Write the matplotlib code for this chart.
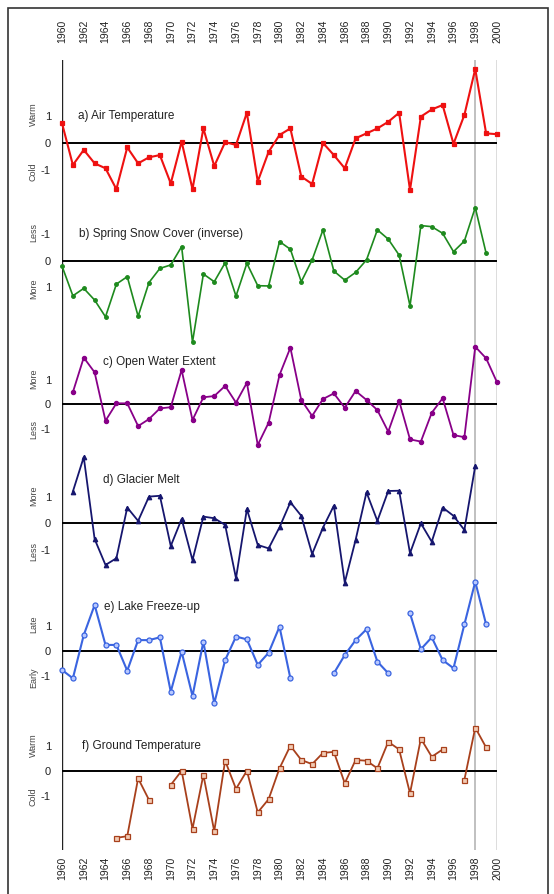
import matplotlib
matplotlib.use('Agg')
import matplotlib.pyplot as plt
import numpy as np
from matplotlib.patches import Rectangle

plt.rcParams['font.family'] = ['Liberation Sans', 'DejaVu Sans']

nan = np.nan
years = np.arange(1960, 2001)

air_temp = [0.72, -0.80, -0.25, -0.74, -0.92, -1.68, -0.16, -0.74, -0.52, -0.44,
            -1.47, 0.05, -1.68, 0.53, -0.84, 0.03, -0.07, 1.10, -1.40, -0.32,
            0.29, 0.53, -1.22, -1.49, 0.00, -0.44, -0.92, 0.17, 0.35, 0.53,
            0.77, 1.10, -1.71, 0.96, 1.22, 1.38, -0.03, 1.02, 2.69, 0.35, 0.32]

snow_cover = [0.20, 1.32, 1.04, 1.48, 2.11, 0.88, 0.60, 2.09, 0.82, 0.29,
              0.16, -0.53, 3.06, 0.50, 0.79, 0.08, 1.33, 0.10, 0.94, 0.95,
              -0.72, -0.43, 0.79, -0.03, -1.16, 0.39, 0.73, 0.44, -0.03, -1.16,
              -0.81, -0.21, 1.70, -1.32, -1.28, -1.03, -0.34, -0.74, -2.00, -0.28, nan]

open_water = [nan, 0.50, 1.93, 1.32, -0.68, 0.04, 0.04, -0.90, -0.61, -0.17,
              -0.12, 1.42, -0.65, 0.29, 0.34, 0.76, 0.07, 0.89, -1.68, -0.76,
              1.21, 2.34, 0.18, -0.48, 0.22, 0.45, -0.14, 0.55, 0.18, -0.24,
              -1.13, 0.14, -1.45, -1.54, -0.35, 0.25, -1.27, -1.36, 2.38, 1.90, 0.91]

glacier_melt = [nan, 1.19, 2.48, -0.59, -1.56, -1.31, 0.59, 0.09, 1.00, 1.03,
                -0.85, 0.16, -1.38, 0.25, 0.19, -0.06, -2.06, 0.53, -0.81, -0.94,
                -0.15, 0.79, 0.28, -1.15, -0.16, 0.66, -2.22, -0.62, 1.16, 0.09,
                1.21, 1.22, -1.12, 0.00, -0.69, 0.59, 0.28, -0.25, 2.15, nan, nan]

lake_freeze = [-0.75, -1.08, 0.63, 1.82, 0.24, 0.24, -0.78, 0.43, 0.43, 0.54,
               -1.61, -0.03, -1.78, 0.37, -2.07, -0.36, 0.57, 0.46, -0.55, -0.07,
               0.96, -1.08, nan, nan, nan, -0.88, -0.16, 0.43, 0.86, -0.42,
               -0.88, nan, 1.49, 0.07, 0.54, -0.36, -0.68, 1.05, 2.74, 1.05, nan]

ground_temp = [nan, nan, nan, nan, nan, -2.73, -2.66, -0.30, -1.18, nan,
               -0.57, 0.01, -2.36, -0.16, -2.46, 0.42, -0.73, 0.01, -1.69, -1.15,
               0.11, 1.03, 0.45, 0.28, 0.74, 0.78, -0.50, 0.45, 0.42, 0.11,
               1.19, 0.88, -0.91, 1.32, 0.58, 0.88, nan, -0.36, 1.77, 0.96, nan]

W, H = 554, 894
fig = plt.figure(figsize=(W / 100, H / 100), dpi=100)


def rect(x0, y0, x1, y1):
    # pixel box (top-left origin) -> figure fraction
    return [x0 / W, 1 - y1 / H, (x1 - x0) / W, (y1 - y0) / H]


fig.add_artist(Rectangle((8 / W, -0.01), 540 / W, 1 - 8 / H + 0.01,
                         transform=fig.transFigure, fill=False,
                         edgecolor='#333333', linewidth=1.2))

top, bottom = 60, 850
box = rect(62, top, 497, bottom)

bg = fig.add_axes(box)
bg.set_xlim(1960, 2000)
bg.set_ylim(0, 1)
for s in bg.spines.values():
    s.set_visible(False)
bg.set_yticks([])
ticks = np.arange(1960, 2001, 2)
bg.set_xticks(ticks)
bg.set_xticklabels([str(t) for t in ticks], rotation=90, fontsize=7.5, color='#222222')
bg.tick_params(axis='x', length=0, pad=5)
sec = bg.secondary_xaxis('top')
sec.set_xticks(ticks)
sec.set_xticklabels([str(t) for t in ticks], rotation=90, fontsize=7.5, color='#222222')
sec.tick_params(axis='x', length=0, pad=12)
for s in sec.spines.values():
    s.set_visible(False)
bg.axvline(1960, color='#222222', lw=1.0)
bg.axvline(2000, color='#555555', lw=1.0)
bg.axvline(1998, color='#bbbbbb', lw=1.3)

panels = [
    dict(vals=air_temp, zero=143, unit=27.5, inv=False, color='#ee1111', face='#ee1111',
         marker='s', ms=3.5, lw=1.5, title='a) Air Temperature', tx=1961.45, ty=1.0,
         up='Warm', down='Cold'),
    dict(vals=snow_cover, zero=260.7, unit=26.6, inv=True, color='#1e8a1e', face='#1e8a1e',
         marker='o', ms=2.6, lw=1.2, title='b) Spring Snow Cover (inverse)', tx=1961.55, ty=-1.0,
         up='Less', down='More'),
    dict(vals=open_water, zero=404.3, unit=24.2, inv=False, color='#880088', face='#880088',
         marker='o', ms=3.0, lw=1.3, title='c) Open Water Extent', tx=1963.75, ty=1.75,
         up='More', down='Less'),
    dict(vals=glacier_melt, zero=523.3, unit=26.7, inv=False, color='#16166e', face='#16166e',
         marker='^', ms=3.2, lw=1.3, title='d) Glacier Melt', tx=1963.75, ty=1.62,
         up='More', down='Less'),
    dict(vals=lake_freeze, zero=651, unit=25.3, inv=False, color='#3a64e0', face='#b8c8ff',
         marker='o', ms=3.6, lw=1.5, title='e) Lake Freeze-up', tx=1963.9, ty=1.74,
         up='Late', down='Early'),
    dict(vals=ground_temp, zero=771, unit=24.5, inv=False, color='#a8401c', face='#f2cbb4',
         marker='s', ms=3.6, lw=1.3, title='f) Ground Temperature', tx=1961.8, ty=1.0,
         up='Warm', down='Cold'),
]

for p in panels:
    ax = fig.add_axes(box, sharex=bg)
    ax.patch.set_alpha(0)
    for s in ax.spines.values():
        s.set_visible(False)
    hi = (p['zero'] - top) / p['unit']
    lo = -(bottom - p['zero']) / p['unit']
    ax.tick_params(axis='x', bottom=False, labelbottom=False)
    ax.axhline(0, color='black', lw=1.4, zorder=1)
    ax.plot(years, p['vals'], color=p['color'], lw=p['lw'], marker=p['marker'],
            ms=p['ms'], mfc=p['face'], mec=p['color'], mew=0.9, zorder=3, clip_on=False)
    if p['inv']:
        ax.set_ylim(-lo, -hi)
        up_y, down_y = -1.05, 1.05
    else:
        ax.set_ylim(lo, hi)
        up_y, down_y = 1.05, -1.05
    ax.set_yticks([-1, 0, 1])
    ax.set_yticklabels(['-1', '0', '1'])
    ax.tick_params(axis='y', length=0, pad=8, labelsize=8, labelcolor='#222222')
    ax.text(p['tx'], p['ty'], p['title'], fontsize=8.5, va='center', ha='left', color='#222222')
    side = ax.get_yaxis_transform()
    ax.text(-0.066, up_y, p['up'], transform=side, rotation=90, fontsize=6.5,
            ha='center', va='center', color='#444444')
    ax.text(-0.066, down_y, p['down'], transform=side, rotation=90, fontsize=6.5,
            ha='center', va='center', color='#444444')

fig.savefig('out.png', dpi=100)
